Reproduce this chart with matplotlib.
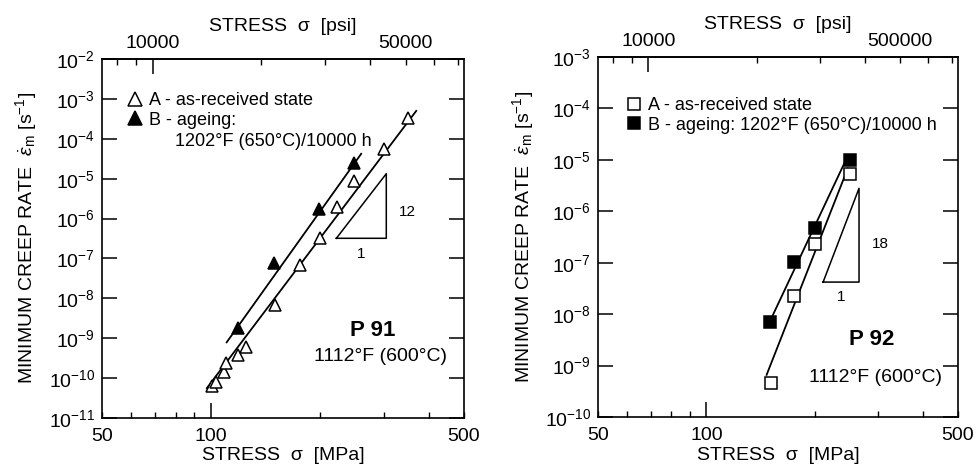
import matplotlib
matplotlib.use("Agg")
import matplotlib.pyplot as plt
from matplotlib.ticker import FixedLocator, FixedFormatter, NullLocator, LogLocator
from matplotlib.lines import Line2D

plt.rcParams['font.family'] = ['Liberation Sans', 'DejaVu Sans']
plt.rcParams['mathtext.fontset'] = 'custom'
plt.rcParams['mathtext.rm'] = 'Liberation Sans'
plt.rcParams['mathtext.it'] = 'Liberation Sans:italic'
plt.rcParams['mathtext.bf'] = 'Liberation Sans:bold'

# ---------------- data: P 91 ----------------
p91_A_stress = [100.5, 103, 108.5, 110, 119, 125, 150, 176, 200, 223, 249, 301, 350]
p91_A_rate = [6.3e-11, 8e-11, 1.4e-10, 2.4e-10, 3.8e-10, 6e-10, 6.7e-9, 6.7e-8,
              3.35e-7, 1.9e-6, 8.9e-6, 5.6e-5, 3.35e-4]
p91_B_stress = [119, 149, 199, 249]
p91_B_rate = [1.8e-9, 7.5e-8, 1.7e-6, 2.5e-5]
p91_fitA_stress = [97.4, 369]
p91_fitA_rate = [5.6e-11, 5e-4]
p91_fitB_stress = [110.5, 260]
p91_fitB_rate = [7.9e-10, 4.2e-5]
p91_tri_stress = [222, 305, 305, 222]
p91_tri_rate = [3.2e-7, 3.2e-7, 1.33e-5, 3.2e-7]
p91_slope = "12"

# ---------------- data: P 92 ----------------
p92_A_stress = [151, 175, 200, 250]
p92_A_rate = [4.6e-10, 2.24e-8, 2.3e-7, 5.2e-6]
p92_B_stress = [150, 175, 200, 250]
p92_B_rate = [7e-9, 1.02e-7, 4.7e-7, 9.8e-6]
p92_fitA_stress = [147, 247]
p92_fitA_rate = [6.6e-10, 6.8e-6]
p92_fitB_stress = [152, 246]
p92_fitB_rate = [8.7e-9, 1.12e-5]
p92_tri_stress = [211, 265.5, 265.5, 211]
p92_tri_rate = [4.2e-8, 4.2e-8, 2.8e-6, 4.2e-8]
p92_slope = "18"

# ---------------- axis tick data ----------------
mpa_major = [100]
mpa_minor = [50, 60, 70, 80, 90, 200, 300, 400, 500]
mpa_minor_labels = ['50', '', '', '', '', '', '', '', '500']
psi_major = [10000]
psi_minor = [8000, 9000, 20000, 30000, 40000, 50000, 60000, 70000]
psi_minor_labels_left = ['', '', '', '', '', '50000', '', '']
psi_minor_labels_right = ['', '', '', '', '', '500000', '', '']
MPA_TO_PSI = 145.038

FS = 14
fig = plt.figure(figsize=(9.78, 4.70), dpi=100)
axL = fig.add_axes([102/978, 1-418/470, 362/978, 359/470])
axR = fig.add_axes([598/978, 1-417/470, 360/978, 360/470])


def style_axes(ax, ylim, psi_minor_labels):
    ax.set_xscale('log')
    ax.set_yscale('log')
    ax.set_xlim(50, 500)
    ax.set_ylim(*ylim)
    ax.xaxis.set_major_locator(FixedLocator(mpa_major))
    ax.xaxis.set_major_formatter(FixedFormatter(['100']))
    ax.xaxis.set_minor_locator(FixedLocator(mpa_minor))
    ax.xaxis.set_minor_formatter(FixedFormatter(mpa_minor_labels))
    ax.yaxis.set_major_locator(LogLocator(base=10, numticks=20))
    ax.yaxis.set_minor_locator(NullLocator())
    ax.tick_params(axis='x', which='both', direction='in', top=False, bottom=True,
                   labelsize=FS, pad=7)
    ax.tick_params(axis='x', which='major', length=11, width=1.1)
    ax.tick_params(axis='x', which='minor', length=4.5, width=1.0)
    ax.tick_params(axis='y', which='major', direction='in', left=True, right=True,
                   length=11, width=1.1, labelsize=FS, pad=5)
    for s in ax.spines.values():
        s.set_linewidth(1.2)
    sec = ax.secondary_xaxis('top', functions=(lambda x: x * MPA_TO_PSI,
                                                lambda x: x / MPA_TO_PSI))
    sec.xaxis.set_major_locator(FixedLocator(psi_major))
    sec.xaxis.set_major_formatter(FixedFormatter(['10000']))
    sec.xaxis.set_minor_locator(FixedLocator(psi_minor))
    sec.xaxis.set_minor_formatter(FixedFormatter(psi_minor_labels))
    sec.tick_params(axis='x', which='both', direction='in', labelsize=FS, pad=5)
    sec.tick_params(axis='x', which='major', length=11, width=1.1)
    sec.tick_params(axis='x', which='minor', length=4.5, width=1.0)
    sec.set_xlabel('STRESS  σ  [psi]', fontsize=FS, labelpad=3)
    sec.spines['top'].set_linewidth(1.2)
    return sec


style_axes(axL, (1e-11, 1e-2), psi_minor_labels_left)
style_axes(axR, (1e-10, 1e-3), psi_minor_labels_right)

xlab = 'STRESS  σ  [MPa]'
fig.text(283/978, 1-456/470, xlab, ha='center', va='center', fontsize=FS)
fig.text(778/978, 1-456/470, xlab, ha='center', va='center', fontsize=FS)

ylab = r'MINIMUM CREEP RATE  $\dot{\varepsilon}_{\mathrm{m}}$ [s$^{-1}$]'
fig.text(26/978, 1-238/470, ylab, rotation=90, ha='center', va='center', fontsize=FS)
fig.text(523/978, 1-237/470, ylab, rotation=90, ha='center', va='center', fontsize=FS)

# ---------------- P 91 panel ----------------
axL.plot(p91_fitA_stress, p91_fitA_rate, color='black', lw=1.3)
axL.plot(p91_fitB_stress, p91_fitB_rate, color='black', lw=1.3)
axL.plot(p91_A_stress, p91_A_rate, ls='none', marker='^', ms=9, mfc='white', mec='black', mew=1.1)
axL.plot(p91_B_stress, p91_B_rate, ls='none', marker='^', ms=9, mfc='black', mec='black', mew=1.1)
axL.plot(p91_tri_stress, p91_tri_rate, color='black', lw=1.1)
axL.annotate(p91_slope, xy=(p91_tri_stress[1], (p91_tri_rate[1] * p91_tri_rate[2]) ** 0.5),
             xytext=(9, -4), textcoords='offset points', ha='left', va='center', fontsize=11)
axL.annotate('1', xy=((p91_tri_stress[0] * p91_tri_stress[1]) ** 0.5, p91_tri_rate[0]),
             xytext=(0, -11), textcoords='offset points', ha='center', va='center', fontsize=11)
hL = [Line2D([], [], ls='none', marker='^', ms=10, mfc='white', mec='black', mew=1.1),
      Line2D([], [], ls='none', marker='^', ms=10, mfc='black', mec='black', mew=1.1)]
axL.legend(hL, ['A - as-received state', 'B - ageing:'], loc='upper left',
           bbox_to_anchor=(0.066, 0.908), frameon=False, fontsize=13,
           handlelength=1.0, handletextpad=0.3, labelspacing=0.15,
           borderaxespad=0, borderpad=0)
axL.text(0.2017, 0.769, '1202°F (650°C)/10000 h', transform=axL.transAxes,
         ha='left', va='center', fontsize=13)
axL.text(0.749, 0.245, 'P 91', transform=axL.transAxes, ha='center', va='center',
         fontsize=16, fontweight='bold')
axL.text(0.768, 0.170, '1112°F (600°C)', transform=axL.transAxes, ha='center',
         va='center', fontsize=FS)

# ---------------- P 92 panel ----------------
axR.plot(p92_fitA_stress, p92_fitA_rate, color='black', lw=1.3)
axR.plot(p92_fitB_stress, p92_fitB_rate, color='black', lw=1.3)
axR.plot(p92_A_stress, p92_A_rate, ls='none', marker='s', ms=8.5, mfc='white', mec='black', mew=1.1)
axR.plot(p92_B_stress, p92_B_rate, ls='none', marker='s', ms=8.5, mfc='black', mec='black', mew=1.1)
axR.plot(p92_tri_stress, p92_tri_rate, color='black', lw=1.1)
axR.annotate(p92_slope, xy=(p92_tri_stress[1], (p92_tri_rate[1] * p92_tri_rate[2]) ** 0.5),
             xytext=(9, -6), textcoords='offset points', ha='left', va='center', fontsize=11)
axR.annotate('1', xy=((p92_tri_stress[0] * p92_tri_stress[1]) ** 0.5, p92_tri_rate[0]),
             xytext=(0, -11), textcoords='offset points', ha='center', va='center', fontsize=11)
hR = [Line2D([], [], ls='none', marker='s', ms=8, mfc='white', mec='black', mew=1.1),
      Line2D([], [], ls='none', marker='s', ms=8, mfc='black', mec='black', mew=1.1)]
axR.legend(hR, ['A - as-received state', 'B - ageing: 1202°F (650°C)/10000 h'],
           loc='upper left', bbox_to_anchor=(0.075, 0.889), frameon=False, fontsize=13,
           handlelength=1.0, handletextpad=0.3, labelspacing=0.15,
           borderaxespad=0, borderpad=0)
axR.text(0.761, 0.214, 'P 92', transform=axR.transAxes, ha='center', va='center',
         fontsize=16, fontweight='bold')
axR.text(0.772, 0.111, '1112°F (600°C)', transform=axR.transAxes, ha='center',
         va='center', fontsize=FS)

fig.savefig('out.png', dpi=100)
